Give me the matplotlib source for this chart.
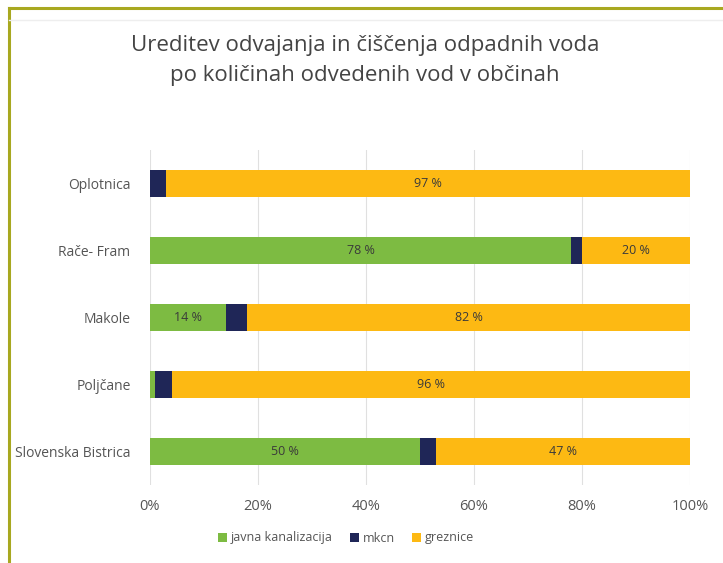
import matplotlib
matplotlib.use("Agg")
import matplotlib.pyplot as plt
from matplotlib.lines import Line2D

categories = ["Oplotnica", "Rače- Fram", "Makole", "Poljčane", "Slovenska Bistrica"]
javna = [0, 78, 14, 1, 50]
mkcn = [3, 2, 4, 3, 3]
greznice = [97, 20, 82, 96, 47]
series_names = ["javna kanalizacija", "mkcn", "greznice"]
ticks = [0, 20, 40, 60, 80, 100]
tick_labels = ["0%", "20%", "40%", "60%", "80%", "100%"]

colors = ["#7dbb42", "#1f2657", "#fdb913"]
txt = "#555555"

plt.rcParams['font.family'] = ['Open Sans', 'DejaVu Sans']

fig = plt.figure(figsize=(7.23, 5.63), dpi=100)
fig.patch.set_facecolor("white")
ax = fig.add_axes([150/723, 1-485/563, 540/723, (485-150)/563])

y = list(range(len(categories)))
lefts = [0]*len(categories)
for vals, col, name in zip([javna, mkcn, greznice], colors, series_names):
    ax.barh(y, vals, left=lefts, height=0.4, color=col, label=name, zorder=3)
    for yi, v, l in zip(y, vals, lefts):
        if v >= 10:
            ax.text(l + v/2, yi, f"{v} %", ha="center", va="center",
                    fontsize=9, color="#3a3a3a", zorder=4)
    lefts = [a+b for a, b in zip(lefts, vals)]

ax.set_ylim(len(categories)-0.5, -0.5)
ax.set_xlim(0, 100)
ax.set_yticks(y)
ax.set_yticklabels(categories, fontsize=10, color=txt)
ax.set_xticks(ticks)
ax.set_xticklabels(tick_labels, fontsize=10.5, color=txt)
ax.tick_params(axis="y", length=0, pad=14)
ax.tick_params(axis="x", length=0, pad=10)
ax.grid(axis="x", color="#e0e0e0", linewidth=0.8, zorder=0)
for s in ax.spines.values():
    s.set_visible(False)

fig.text(365/723, 1-45/563, "Ureditev odvajanja in čiščenja odpadnih voda", ha="center",
         va="center", fontsize=16, color="#444444")
fig.text(365/723, 1-76/563, "po količinah odvedenih vod v občinah", ha="center",
         va="center", fontsize=16, color="#444444")

fig.legend(*ax.get_legend_handles_labels(), loc="center", bbox_to_anchor=(346/723, 1-538/563),
           ncol=3, frameon=False, fontsize=9, handlelength=0.7, handleheight=0.7,
           handletextpad=0.3, columnspacing=1.4, labelcolor=txt)

# frame lines
fig.add_artist(Line2D([9/723, 9/723], [0, 1-8/563], color="#a8a820", linewidth=2.2))
fig.add_artist(Line2D([9/723, 1], [1-8/563, 1-8/563], color="#a8a820", linewidth=2.2))
fig.add_artist(Line2D([9/723, 1], [1-20/563, 1-20/563], color="#eeeeee", linewidth=1))

fig.savefig("out.png", dpi=100, facecolor="white")
